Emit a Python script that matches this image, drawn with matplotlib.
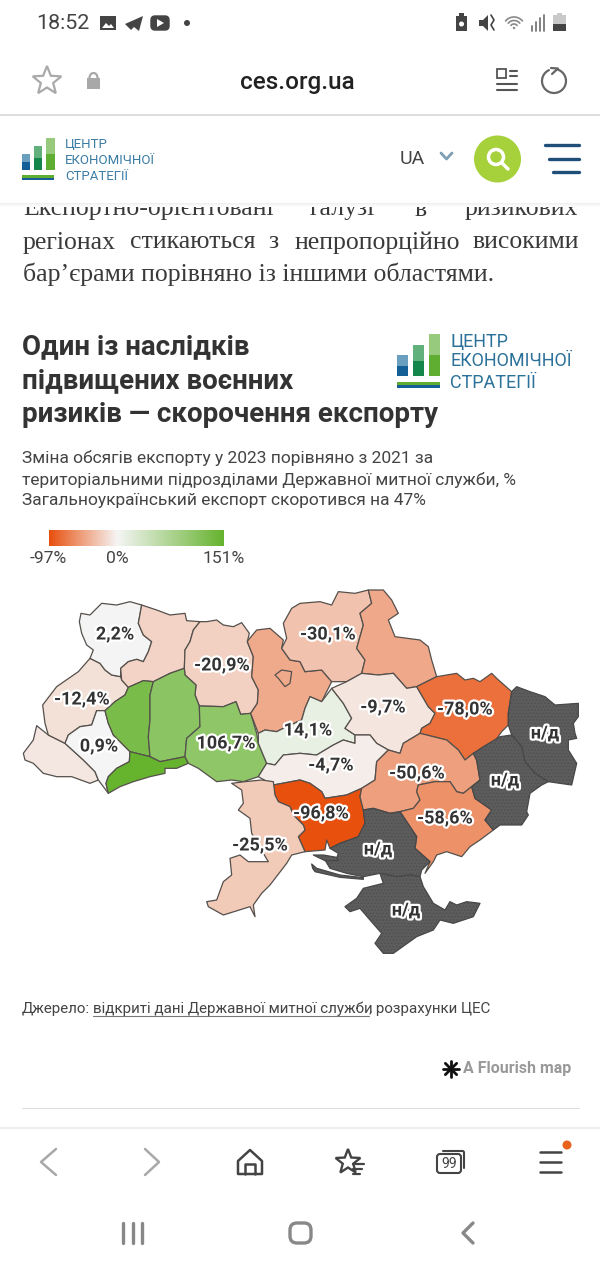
import numpy as np
import matplotlib
matplotlib.use("Agg")
import matplotlib.pyplot as plt
import matplotlib.patheffects as pe
from matplotlib.colors import LinearSegmentedColormap, TwoSlopeNorm
from matplotlib.patches import Polygon, Rectangle, Circle, FancyBboxPatch, Ellipse

plt.rcParams['font.family'] = ['Roboto', 'DejaVu Sans']

# ---------- data ----------
TITLE = ["Один із наслідків", "підвищених воєнних", "ризиків — скорочення експорту"]
SUBTITLE = ["Зміна обсягів експорту у 2023 порівняно з 2021 за",
            "територіальними підрозділами Державної митної служби, %",
            "Загальноукраїнський експорт скоротився на 47%"]
LEGEND_MIN, LEGEND_MID, LEGEND_MAX = -97, 0, 151
LEGEND_LABELS = ["-97%", "0%", "151%"]

# region outlines, in map units (3 units per screen pixel)
volyn = [(238,125),(243,100),(270,105),(305,70),(350,75),(390,65),(425,75),(415,130),(430,165),(455,185),(445,215),(430,245),(410,238),(385,245),(362,265),(362,290),(335,285),(315,270),(300,250),(270,235),(280,210),(260,195),(245,160)]
rivne = [(425,75),(470,90),(510,105),(555,100),(560,122),(600,125),(580,150),(570,185),(555,210),(553,265),(510,280),(460,305),(430,302),(385,322),(365,300),(362,265),(385,245),(410,238),(430,245),(445,215),(455,185),(430,165),(415,130)]
zhytomyr = [(600,125),(620,125),(650,120),(670,135),(700,140),(725,128),(748,160),(742,185),(760,230),(755,290),(775,330),(772,370),(752,400),(722,403),(708,365),(670,380),(598,378),(585,345),(588,315),(555,285),(553,265),(555,210),(570,185),(580,150)]
lviv = [(270,235),(300,250),(315,270),(335,285),(362,290),(365,300),(385,322),(375,345),(345,365),(315,392),(290,392),(275,435),(240,440),(205,465),(195,490),(145,465),(135,430),(128,375),(170,320),(235,275)]
zakarpattia = [(70,520),(100,480),(110,437),(145,465),(195,490),(250,540),(285,575),(295,600),(270,610),(215,590),(170,590),(130,580),(100,550),(75,540)]
frankivsk = [(205,465),(240,440),(275,435),(290,392),(315,392),(325,430),(340,465),(365,490),(390,515),(388,545),(350,565),(325,590),(318,610),(325,640),(295,600),(285,575),(250,540),(195,490)]
ternopil = [(315,392),(345,365),(375,345),(385,322),(430,302),(460,305),(450,345),(450,420),(445,470),(450,530),(430,525),(390,515),(365,490),(340,465),(325,430)]
khmelnytskyi = [(460,305),(510,280),(553,265),(555,285),(588,315),(585,345),(598,378),(600,440),(560,475),(555,530),(480,545),(450,530),(445,470),(450,420),(450,345)]
chernivtsi = [(390,515),(430,525),(450,530),(480,545),(555,530),(565,550),(530,565),(495,565),(495,580),(450,590),(400,605),(360,620),(325,640),(318,610),(325,590),(350,565),(388,545)]
vinnytsia = [(598,378),(670,380),(708,365),(722,403),(752,400),(770,460),(775,490),(800,550),(775,590),(730,605),(695,600),(650,605),(595,565),(565,550),(555,530),(560,475),(600,440)]
kyiv = [(745,180),(770,150),(810,145),(850,180),(845,205),(870,240),(900,245),(915,275),(965,270),(995,305),(965,365),(930,350),(915,385),(905,420),(860,440),(830,455),(795,450),(775,460),(752,400),(772,370),(775,330),(755,290),(760,230),(742,185)]
kyiv_city = [(825,285),(845,270),(875,275),(870,310),(855,320),(835,295)]
cherkasy = [(995,325),(1030,370),(1055,415),(1035,445),(1065,465),(1065,490),(1030,480),(1000,495),(950,525),(900,520),(850,525),(825,555),(800,550),(775,490),(775,460),(795,450),(830,455),(860,440),(905,420),(915,385),(930,350),(965,365)]
chernihiv = [(850,130),(875,85),(900,70),(960,65),(995,75),(1015,35),(1065,40),(1105,30),(1115,70),(1080,100),(1090,135),(1070,205),(1095,240),(1085,280),(1040,305),(995,305),(965,270),(915,275),(900,245),(870,240),(845,205),(860,175)]
sumy = [(1105,30),(1150,30),(1175,60),(1195,100),(1165,120),(1185,170),(1260,180),(1285,200),(1295,240),(1310,290),(1250,320),(1220,325),(1180,280),(1135,285),(1085,280),(1095,240),(1070,205),(1090,135),(1080,100),(1115,70)]
poltava = [(995,325),(1040,305),(1085,280),(1135,285),(1180,280),(1220,325),(1250,320),(1285,380),(1305,400),(1290,430),(1265,445),(1260,460),(1210,490),(1200,520),(1165,510),(1130,490),(1110,465),(1065,465),(1035,445),(1055,415),(1030,370)]
kharkiv = [(1250,320),(1310,290),(1340,285),(1370,280),(1395,300),(1420,295),(1440,305),(1475,280),(1490,295),(1535,335),(1525,400),(1525,435),(1505,455),(1480,490),(1420,520),(1395,540),(1375,510),(1340,480),(1300,470),(1260,460),(1265,445),(1290,430),(1305,400),(1285,380)]
luhansk = [(1550,320),(1590,335),(1635,350),(1665,375),(1735,370),(1735,410),(1720,430),(1725,460),(1730,475),(1705,480),(1705,510),(1730,550),(1715,615),(1645,605),(1605,580),(1575,545),(1565,500),(1535,465),(1525,435),(1525,400),(1535,335)]
donetsk = [(1420,520),(1450,500),(1500,470),(1535,465),(1565,500),(1575,545),(1605,580),(1645,605),(1625,615),(1590,640),(1580,695),(1585,705),(1565,735),(1500,735),(1480,750),(1455,720),(1475,690),(1425,655),(1415,620),(1440,600),(1430,540)]
kirovohrad = [(775,590),(800,550),(825,555),(850,525),(900,520),(950,525),(1000,495),(1030,480),(1065,490),(1065,465),(1110,465),(1130,490),(1165,510),(1130,545),(1125,600),(1085,625),(1040,645),(975,655),(965,635),(930,610),(900,600),(820,615)]
mykolaiv = [(820,615),(900,600),(930,610),(965,635),(975,655),(1040,645),(1085,625),(1080,650),(1090,690),(1095,730),(1075,770),(1020,790),(990,805),(980,780),(975,810),(915,815),(895,770),(915,750),(910,735),(880,705),(870,680),(835,665),(825,645)]
odesa = [(695,610),(735,605),(785,600),(820,605),(825,645),(835,665),(870,680),(880,705),(910,735),(915,750),(895,770),(915,815),(875,825),(860,850),(810,915),(785,940),(760,975),(765,1010),(750,980),(670,1005),(625,980),(620,965),(650,960),(670,905),(695,885),(690,835),(720,825),(745,845),(805,845),(775,795),(755,760),(750,715),(715,690),(730,670),(725,630)]
dnipro = [(1165,510),(1200,520),(1210,490),(1260,460),(1300,470),(1340,480),(1375,510),(1395,540),(1420,520),(1430,540),(1440,600),(1415,620),(1390,640),(1370,635),(1350,605),(1305,605),(1255,615),(1250,635),(1260,660),(1240,685),(1200,695),(1170,700),(1120,685),(1090,690),(1080,650),(1085,625),(1125,600),(1130,545)]
zaporizhzhia = [(1255,615),(1305,605),(1350,605),(1370,635),(1390,640),(1415,620),(1425,655),(1475,690),(1455,720),(1480,750),(1440,780),(1410,800),(1385,830),(1340,815),(1310,825),(1300,845),(1275,880),(1290,845),(1245,805),(1250,770),(1200,695),(1240,685),(1260,660),(1250,635)]
kherson = [(1090,690),(1120,685),(1170,700),(1200,695),(1250,770),(1245,805),(1290,845),(1265,870),(1260,890),(1230,885),(1190,890),(1140,880),(1090,890),(1040,880),(990,865),(975,840),(1010,835),(1015,820),(990,805),(1020,790),(1075,770),(1095,730)]
kinburn_spit = [(940,825),(970,825),(1010,832),(1015,842),(975,842)]
tendra_spit = [(935,852),(950,865),(1020,885),(1090,893),(1090,898),(1020,892),(945,875),(938,865)]
crimea = [(1140,880),(1150,910),(1090,925),(1070,955),(1035,980),(1050,995),(1080,985),(1110,1020),(1145,1060),(1125,1090),(1150,1120),(1180,1120),(1250,1070),(1300,1050),(1320,1020),(1360,1030),(1420,1010),(1440,970),(1400,965),(1370,975),(1350,965),(1335,990),(1300,970),(1270,920),(1260,890),(1230,885),(1190,890)]

REGIONS = [zakarpattia, lviv, frankivsk, volyn, rivne, zhytomyr, ternopil, khmelnytskyi, chernivtsi, vinnytsia,
           kyiv, kyiv_city, cherkasy, chernihiv, sumy, poltava, kharkiv, kirovohrad, mykolaiv, odesa, dnipro, zaporizhzhia]
VALUES = [-8, -12.4, 0.9, 2.2, -20, -20.9, 130, 112, 151, 106.7,
          -44, -44, 14.1, -30.1, -45, -9.7, -78.0, -4.7, -96.8, -25.5, -50.6, -58.6]
NO_DATA = [luhansk, donetsk, kherson, kinburn_spit, tendra_spit, crimea]

LABELS = ["2,2%", "-20,9%", "-30,1%", "-12,4%", "0,9%", "106,7%", "14,1%", "-9,7%", "-78,0%", "-4,7%",
          "-50,6%", "-58,6%", "-96,8%", "-25,5%", "н/д", "н/д", "н/д", "н/д"]
LABEL_X = [115, 222, 328, 82, 99, 226, 308, 383, 465, 331, 417, 445, 321, 260, 545, 505, 378, 406]
LABEL_Y = [634, 665, 634, 699, 746, 743, 730, 707, 709, 765, 773, 818, 813, 845, 733, 780, 849, 910]

BODY_LINE1 = [("Експортно-орієнтовані", 23), ("галузі", 310), ("в", 415), ("ризикових", 465)]
BODY_LINE2 = [("регіонах", 23), ("стикаються", 130), ("з", 268), ("непропорційно", 295), ("високими", 473)]
BODY_LINE3 = "бар’єрами порівняно із іншими областями."

# ---------- canvas ----------
W, H = 600, 1267
fig = plt.figure(figsize=(W/100, H/100), dpi=100)
ax = fig.add_axes([0, 0, 1, 1])
ax.set_xlim(0, W); ax.set_ylim(H, 0); ax.axis('off')

def T(x, y, s, px, color='#333333', ha='left', va='center', weight='normal', family=None, z=5, **kw):
    return ax.text(x, y + 1.5, s, fontsize=px*0.72, color=color, ha=ha, va=va, weight=weight,
                   family=family or ['Roboto', 'DejaVu Sans'], zorder=z, **kw)

def R(x0, y0, x1, y1, c, z=3):
    ax.add_patch(Rectangle((x0, y0), x1-x0, y1-y0, fc=c, ec='none', zorder=z))

def L(xs, ys, c='#555555', lw=1.5, z=6):
    ax.plot(xs, ys, color=c, lw=lw, zorder=z, solid_capstyle='round', solid_joinstyle='round')

# ---------- article body (clipped by header) ----------
SERIF = ['Liberation Serif', 'DejaVu Serif']
BODY_PX = 25.8
for w, x in BODY_LINE1:
    T(x, 208, w, BODY_PX, '#3a3a3a', family=SERIF, z=2)
for w, x in BODY_LINE2:
    T(x, 241, w, BODY_PX, '#3a3a3a', family=SERIF, z=2)
T(23, 273, BODY_LINE3, BODY_PX, '#3a3a3a', family=SERIF, z=2)
R(0, 0, W, 203, 'white', z=3)
for i, c in enumerate(['#f0f0f0', '#f5f5f5', '#f9f9f9', '#fcfcfc']):
    R(0, 203+i, W, 204+i, c, z=3)

# ---------- status bar ----------
T(36, 22, "18:52", 21.5, '#444444')
R(100, 16, 116, 30, '#444444', z=6)
ax.add_patch(Polygon([(102,28),(106,23),(109,26),(111,24),(114,28)], fc='white', ec='none', zorder=7))
ax.add_patch(Polygon([(125,24),(143,16),(139,31),(134,27),(131,30)], fc='#444444', ec='none', zorder=6))
ax.add_patch(FancyBboxPatch((151,16), 18, 14, boxstyle='round,pad=0,rounding_size=4', fc='#444444', ec='#444444', lw=1, zorder=6))
ax.add_patch(Polygon([(157,19),(157,27),(164,23)], fc='white', ec='none', zorder=7))
ax.add_patch(Circle((187, 23), 3, fc='#444444', ec='none', zorder=6))
R(456, 16, 467, 31, '#444444', z=6); R(459, 13, 464, 16, '#444444', z=6)
ax.add_patch(Circle((461.5, 24), 2.5, fc='white', ec='none', zorder=7))
ax.add_patch(Polygon([(479,20),(483,20),(488,15),(488,31),(483,26),(479,26)], fc='#444444', ec='none', zorder=6))
L([491,494,491,494], [15,20,25,30], '#444444', 1.2)
for r in (11, 7.5, 4):
    t = np.linspace(np.radians(-140), np.radians(-40), 20)
    L(514+r*np.cos(t), 28+r*np.sin(t), '#888888', 1.2)
ax.add_patch(Circle((514, 28), 1.2, fc='#888888', ec='none', zorder=6))
for x, h in zip((532, 536, 540, 544), (5, 9, 13, 16)):
    L([x, x], [31, 31-h], '#777777', 1.3)
R(553, 15, 566, 31, '#c9c9c9', z=6); R(553, 24, 566, 31, '#444444', z=7); R(557, 13, 562, 15, '#c9c9c9', z=6)

# ---------- address bar ----------
ang = np.radians(np.arange(-90, 270, 36))
rad = np.array([15, 6.5]*5)
ax.add_patch(Polygon(np.c_[47+rad*np.cos(ang), 81+rad*np.sin(ang)], fc='none', ec='#aaaaaa', lw=1.6, zorder=6))
R(87, 78, 100, 89, '#a8a8a8', z=6)
t = np.linspace(np.pi, 2*np.pi, 20)
L(93.5+4*np.cos(t), 78+5*np.sin(t), '#a8a8a8', 1.6)
T(297, 80.5, "ces.org.ua", 24.3, '#222222', ha='center', weight='medium')
ax.add_patch(Rectangle((497, 69), 9, 9, fc='none', ec='#555555', lw=1.3, zorder=6))
for yy in (71, 76, 84, 90):
    L([510 if yy < 80 else 497, 517], [yy, yy], '#555555', 1.5)
t = np.linspace(np.radians(-70), np.radians(245), 40)
L(554+12*np.cos(t), 81+12*np.sin(t), '#666666', 1.6)
L([551, 558, 552], [68, 68.5, 74], '#666666', 1.6)
R(0, 114, W, 115.5, '#dddddd', z=6)

# ---------- site header ----------
def logo(x0, base_y, w, gap, hs, split, colors):
    for i, h in enumerate(hs):
        x = x0 + i*(w+gap)
        R(x, base_y-h, x+w, base_y-h*split, colors[i][0], z=6)
        R(x, base_y-h*split, x+w, base_y, colors[i][1], z=6)

BAR_COL = [('#6a9fc0', '#145f96'), ('#62b07c', '#15864b'), ('#97ca7c', '#5fae32')]
logo(21.5, 170, 8.5, 3.8, [16, 24, 32], 0.5, BAR_COL)
R(21.5, 175, 54, 178, '#5fae32', z=6); R(21.5, 178, 54, 180, '#145f96', z=6)
for s, y in zip(("ЦЕНТР", "ЕКОНОМІЧНОЇ", "СТРАТЕГІЇ"), (143, 159, 175)):
    T(65, y, s, 13.2, '#3a7ca5')
T(400, 158, "UA", 19.5, '#444444')
L([441, 446.5, 452], [153, 159, 153], '#7f9fb5', 2)
ax.add_patch(Ellipse((497.5, 159), 47, 47, fc='#a6d13b', ec='none', zorder=6))
ax.add_patch(Circle((496, 157), 7.5, fc='none', ec='white', lw=2.5, zorder=7))
L([502, 508], [163, 169], 'white', 2.5, z=7)
for x0, y in ((545, 145), (549, 159), (553, 172)):
    L([x0, 579], [y, y], '#1f4e79', 2.4)

# ---------- chart title block ----------
for s, y in zip(TITLE, (345, 379, 413)):
    T(22, y, s, 27.8, '#333333', weight='bold')
logo(397, 376, 11, 5, [21, 31, 42], 0.5, BAR_COL)
R(397, 382, 440, 385, '#5fae32', z=6); R(397, 385, 440, 387.5, '#145f96', z=6)
for s, y in zip(("ЦЕНТР", "ЕКОНОМІЧНОЇ", "СТРАТЕГІЇ"), (340, 360, 381)):
    T(450, y, s, 18, '#2b7199')
for s, y in zip(SUBTITLE, (457, 478.5, 499.5)):
    T(22, y, s, 17.4, '#444444')

# ---------- colour scale ----------
cmap = LinearSegmentedColormap.from_list('diverge', ['#e8500e', '#f5f5f5', '#66b32e'])
norm = TwoSlopeNorm(vmin=LEGEND_MIN, vcenter=LEGEND_MID, vmax=LEGEND_MAX)
grad = np.linspace(LEGEND_MIN, LEGEND_MAX, 256).reshape(1, -1)
ax.imshow(grad, cmap=LinearSegmentedColormap.from_list('d2', [(0, '#e8500e'), (97/248, '#f5f5f5'), (1, '#66b32e')]),
          vmin=LEGEND_MIN, vmax=LEGEND_MAX, extent=(49, 224, 546, 530), aspect='auto', zorder=4)
ax.set_xlim(0, W); ax.set_ylim(H, 0)
for s, x in zip(LEGEND_LABELS, (48, 117, 224)):
    T(x, 557, s, 17.5, '#444444', ha='center')

# ---------- map ----------
def to_px(pts):
    a = np.array(pts, float)
    return np.c_[a[:, 0]/3, 580 + a[:, 1]/3]

for pts, v in zip(REGIONS, VALUES):
    ax.add_patch(Polygon(to_px(pts), closed=True, fc=cmap(norm(v)), ec='#55504c', lw=0.9, joinstyle='round', zorder=5))
plt.rcParams['hatch.linewidth'] = 0.3
for pts in NO_DATA:
    ax.add_patch(Polygon(to_px(pts), closed=True, fc='#5c5c5c', ec='#484848', lw=0.9, hatch='.....', joinstyle='round', zorder=5))
halo = [pe.withStroke(linewidth=3.2, foreground='white')]
for s, x, y in zip(LABELS, LABEL_X, LABEL_Y):
    t = T(x, y-1, s, 18, '#333333', ha='center', weight='bold', z=8)
    t.set_path_effects(halo)

# ---------- source ----------
T(22, 1007, "Джерело:", 15.1, '#444444')
T(93, 1007, "відкриті дані Державної митної служби", 15.1, '#444444')
L([93, 369], [1016, 1016], '#777777', 0.8)
T(369, 1007, ", розрахунки ЦЕС", 15.1, '#444444')
for a in np.radians((0, 45, 90, 135)):
    L([451-8*np.cos(a), 451+8*np.cos(a)], [1069-8*np.sin(a), 1069+8*np.sin(a)], '#111111', 2)
T(463, 1067, "A Flourish map", 16, '#999999', weight='bold')
R(22, 1107.5, 580, 1109, '#dddddd', z=4)
R(0, 1127, W, 1128.5, '#eeeeee', z=4)

# ---------- browser bar ----------
L([56, 41, 56], [1149, 1162, 1175], '#a8a8a8', 1.8)
L([145, 159, 145], [1149, 1162, 1175], '#a8a8a8', 1.8)
ax.add_patch(Polygon([(238,1161),(250,1150),(262,1161),(262,1174),(238,1174)], closed=True, fc='none', ec='#444444', lw=1.8, joinstyle='round', zorder=6))
L([245, 245, 255, 255], [1174, 1164, 1164, 1174], '#444444', 1.8)
rad2 = np.array([13, 5.5]*5)
ax.add_patch(Polygon(np.c_[348+rad2*np.cos(ang), 1162+rad2*np.sin(ang)], fc='white', ec='#444444', lw=1.7, zorder=6))
for y in (1164, 1169, 1174):
    L([353, 364 - (y-1164)*0.4], [y, y], '#444444', 1.6, z=7)
ax.add_patch(FancyBboxPatch((437, 1154), 24, 19, boxstyle='round,pad=0,rounding_size=3', fc='white', ec='#444444', lw=1.5, zorder=6))
L([443, 463, 464, 464], [1151, 1151, 1152, 1168], '#444444', 1.5)
T(449, 1162, "99", 14, '#444444', ha='center', z=7)
for y in (1152, 1162, 1172):
    L([540, 561], [y, y], '#444444', 1.8)
ax.add_patch(Circle((567, 1145), 4.5, fc='#e8631c', ec='none', zorder=7))

# ---------- android navigation ----------
for x in (123, 133, 142):
    L([x, x], [1223, 1243], '#888888', 2.4)
ax.add_patch(FancyBboxPatch((290, 1223), 21, 20, boxstyle='round,pad=0,rounding_size=7', fc='none', ec='#888888', lw=2.4, zorder=6))
L([473, 463, 473], [1223, 1233, 1243], '#888888', 2.4)

fig.savefig('out.png', dpi=100, facecolor='white')
